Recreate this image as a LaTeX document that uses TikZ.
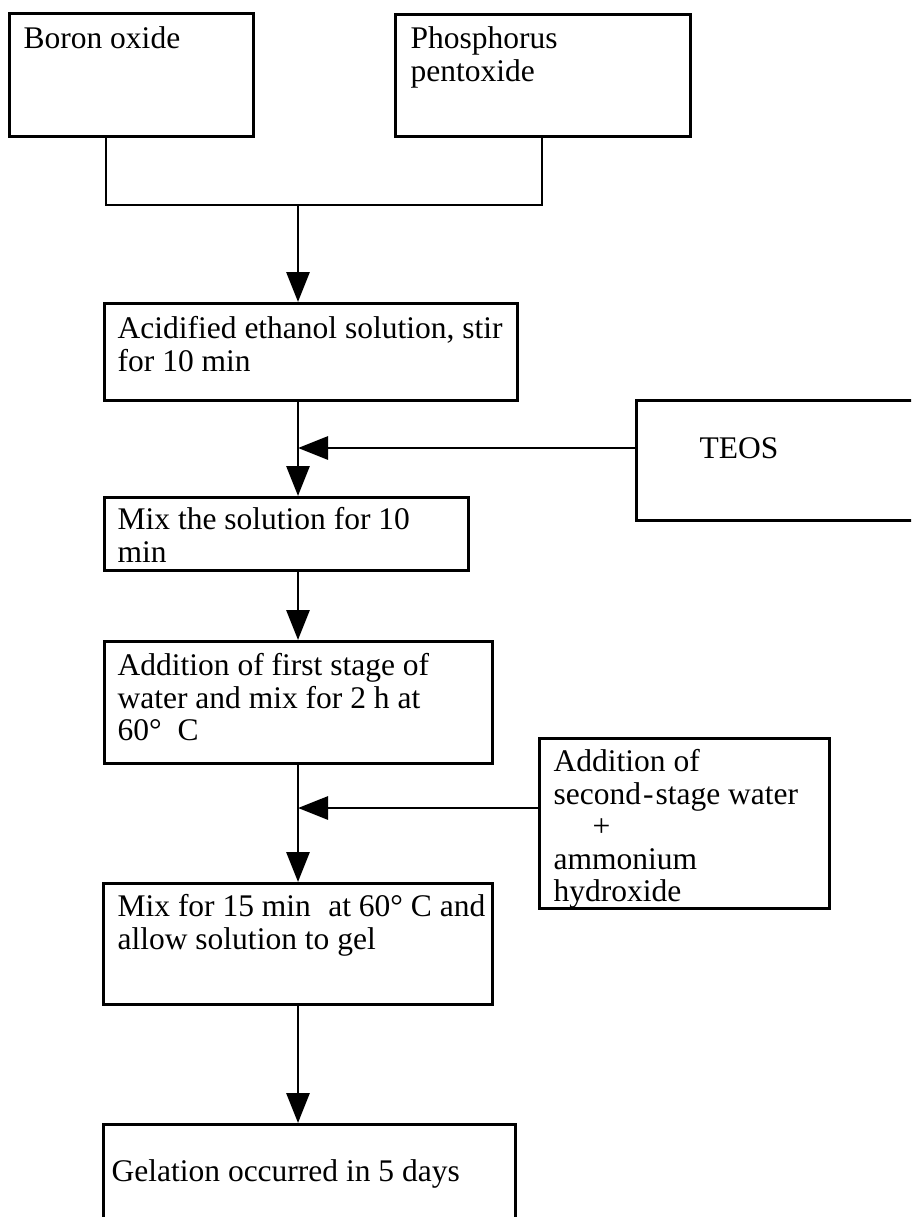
\documentclass[tikz,border=0pt]{standalone}
\usepackage{fontspec}
\setmainfont{Liberation Serif}
\usetikzlibrary{arrows.meta}
% #1 width, #2 height, #3 left pad, #4 first baseline below top, #5 text
\newcommand{\boxtxt}[5]{\parbox[c][#2][t]{#1}{\raggedright\leftskip=#3\relax
  \vspace*{\dimexpr#4-\ht\strutbox\relax}\strut #5}}
\tikzset{
  box/.style={draw, line width=3.3pt, inner sep=0pt, anchor=north west},
  line/.style={line width=2.9pt},
  arr/.style={line width=2.9pt, -{Triangle[length=30pt,width=23pt]}}
}
\begin{document}
\begin{tikzpicture}[x=1pt,y=-1pt,font=\fontsize{31.5}{32.5}\selectfont]
\useasboundingbox (0,0) rectangle (911,1217);
\clip (0,0) rectangle (911,1217);
\fill[white] (0,0) rectangle (911,1217);

\node[box] (boron) at (8,12) {\boxtxt{244pt}{123pt}{14pt}{35pt}{Boron oxide}};
\node[box] (phos) at (394,13) {\boxtxt{295pt}{122pt}{15pt}{34pt}{Phosphorus\\pentoxide}};
\node[box] (acid) at (103,302) {\boxtxt{413pt}{97pt}{13pt}{35pt}{Acidified ethanol solution, stir\\for 10 min}};
\node[box] (teos) at (635,399) {\boxtxt{330pt}{120pt}{63pt}{58pt}{TEOS}};
\node[box] (mix) at (103,496) {\boxtxt{364pt}{73pt}{13pt}{32pt}{Mix the solution for 10\\min}};
\node[box] (add1) at (103,640) {\boxtxt{388pt}{122pt}{13pt}{34pt}{Addition of first stage of\\water and mix for 2 h at\\60° \ C}};
\node[box] (add2) at (538,737) {\boxtxt{290pt}{170pt}{14pt}{33pt}{Addition of\\second\kern2pt-\kern2pt stage water\\\hspace*{39pt}+\\ammonium\\hydroxide}};
\node[box] (mix15) at (102,882) {\boxtxt{389pt}{121pt}{14pt}{33pt}{Mix for 15 min\hspace{0.3em} at 60° C and\\allow solution to gel}};
\node[box] (gel) at (102,1123) {\boxtxt{412pt}{150pt}{8pt}{57pt}{Gelation occurred in 5 days}};

\coordinate (jl) at (106,205);
\coordinate (jr) at (542,205);
\coordinate (jm) at (298,205);
\coordinate (m1) at (298,448);
\coordinate (m2) at (298,808);

\draw[line] (boron.south -| jl) -- (jl) -- (jr) -- (phos.south -| jr);
\draw[arr] (jm) -- (acid.north -| jm);
\draw[arr] (acid.south -| jm) -- (mix.north -| jm);
\draw[arr] (teos.west |- m1) -- (m1);
\draw[arr] (mix.south -| jm) -- (add1.north -| jm);
\draw[arr] (add1.south -| jm) -- (mix15.north -| jm);
\draw[arr] (add2.west |- m2) -- (m2);
\draw[arr] (mix15.south -| jm) -- (gel.north -| jm);
\end{tikzpicture}
\end{document}
